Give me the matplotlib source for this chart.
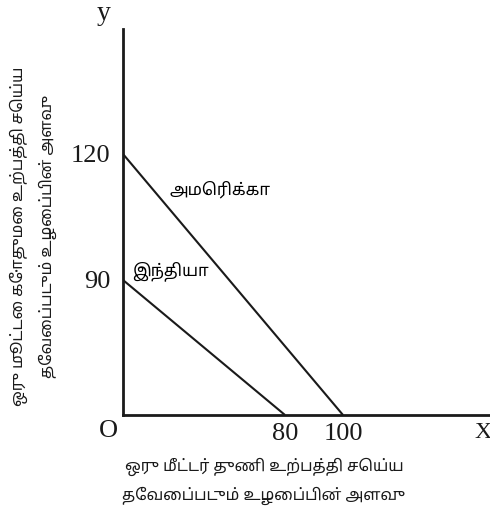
import numpy as np
import matplotlib
matplotlib.use('Agg')
import matplotlib.pyplot as plt

# data (labour needed: cloth on x, wheat on y)
countries = ['அமெரிக்கா', 'இந்தியா']
cloth_labour = [100, 80]
wheat_labour = [120, 90]

x_ticks = [80, 100]
y_ticks = [120, 90]

xlabel = 'ஒரு மீட்டர் துணி உற்பத்தி செய்ய\nதேவைப்படும் உழைப்பின் அளவு'
ylabel = 'ஒரு மூட்டை கோதுமை உற்பத்தி செய்ய\nதேவைப்படும் உழைப்பின் அளவு'

tamil = ['Noto Sans Tamil', 'DejaVu Sans']
serif = ['Liberation Serif', 'DejaVu Serif']

# the original sketch is not to scale, so a piecewise scale keeps its look
xs_d, xs_p = [0, 80, 100, 200], [0, 162, 220, 440]
ys_d, ys_p = [0, 90, 120, 200], [0, 135, 261, 435]

def fwd(d, p):
    return lambda v: np.interp(v, d, p)

def inv(d, p):
    return lambda v: np.interp(v, p, d)

fig = plt.figure(figsize=(4.9, 5.14), dpi=100)
ax = fig.add_axes([123 / 490, 99 / 514, 367 / 490, 386 / 514])
ax.set_xscale('function', functions=(fwd(xs_d, xs_p), inv(xs_d, xs_p)))
ax.set_yscale('function', functions=(fwd(ys_d, ys_p), inv(ys_d, ys_p)))
ax.set_xlim(0, np.interp(367, xs_p, xs_d))
ax.set_ylim(0, np.interp(386, ys_p, ys_d))

for name, cx, wy in zip(countries, cloth_labour, wheat_labour):
    ax.plot([0, cx], [wy, 0], color='#1a1a1a', lw=1.5, solid_capstyle='butt')

ax.text(23, 111.5, countries[0], fontsize=12, family=tamil, va='center')
ax.text(4.5, 92, countries[1], fontsize=12, family=tamil, va='center')

for s in ['top', 'right']:
    ax.spines[s].set_visible(False)
for s in ['left', 'bottom']:
    ax.spines[s].set_linewidth(2)
    ax.spines[s].set_color('#1a1a1a')

ax.set_xticks(x_ticks)
ax.set_yticks(y_ticks)
ax.tick_params(length=0, labelsize=19, pad=9)
ax.tick_params(axis='x', pad=6)
for lab in ax.get_xticklabels() + ax.get_yticklabels():
    lab.set_family(serif)
    lab.set_color('#1a1a1a')

fig.text(108 / 490, 1 - 431 / 514, 'O', fontsize=19, family=serif, ha='center', va='center', color='#1a1a1a')
fig.text(483 / 490, 1 - 432 / 514, 'X', fontsize=17, family=serif, ha='center', va='center', color='#1a1a1a')
fig.text(104 / 490, 1 - 14 / 514, 'y', fontsize=20, family=serif, ha='center', va='center', color='#1a1a1a')

fig.text(264 / 490, 1 - 481 / 514, xlabel, fontsize=11.5, family=tamil, ha='center', va='center',
         linespacing=1.8, color='#1a1a1a')
fig.text(33 / 490, 1 - 236 / 514, ylabel, fontsize=11.5, family=tamil, ha='center', va='center',
         rotation=90, linespacing=1.8, color='#1a1a1a')

fig.savefig('out.png')
